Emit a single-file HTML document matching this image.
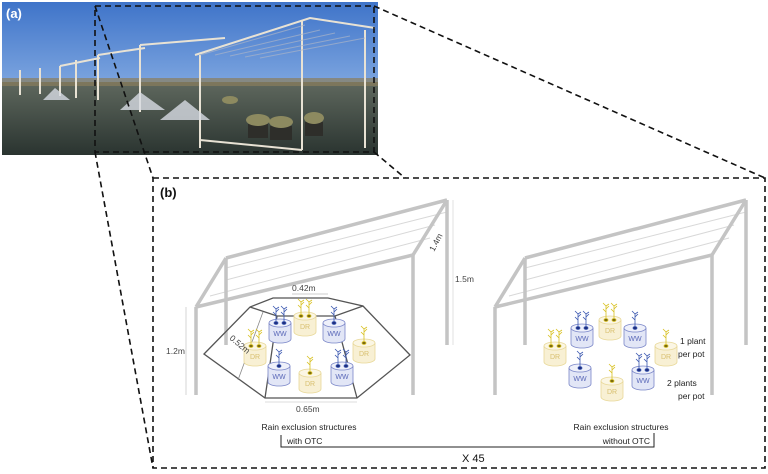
<!DOCTYPE html>
<html><head><meta charset="utf-8"><style>
html,body{margin:0;padding:0;background:#fff;}
svg{display:block;font-family:"Liberation Sans",sans-serif;}
</style></head><body>
<svg width="768" height="474" viewBox="0 0 768 474">
<defs>
<linearGradient id="sky" x1="0" y1="0" x2="0" y2="1">
<stop offset="0" stop-color="#3f74c9"/><stop offset="0.7" stop-color="#8fb4e6"/><stop offset="1" stop-color="#b8cde4"/>
</linearGradient>
<linearGradient id="gnd" x1="0" y1="0" x2="0" y2="1">
<stop offset="0" stop-color="#5f685e"/><stop offset="1" stop-color="#2a3430"/>
</linearGradient>
<g id="plB" fill="#3a57b0" stroke="#3a57b0" stroke-width="0.8">
<path d="M0,0 L0,-14 M0,-8 l-3,-3 M0,-11 l3,-3 M0,-14 l-3,-3 M0,-14 l3,-2" fill="none"/>
<ellipse cx="0" cy="0" rx="2" ry="1.5" fill="#1f2f80"/>
</g>
<g id="plY" fill="#d8c020" stroke="#d8c020" stroke-width="0.8">
<path d="M0,0 L0,-14 M0,-8 l-3,-3 M0,-11 l3,-3 M0,-14 l-3,-3 M0,-14 l3,-2" fill="none"/>
<ellipse cx="0" cy="0" rx="2" ry="1.5" fill="#7a6a10"/>
</g>
<g id="ww">
<path d="M-11,0 L-11,16 A11,4 0 0 0 11,16 L11,0" fill="#e2e6f6" stroke="#7a86c8" stroke-width="0.8"/>
<ellipse cx="0" cy="0" rx="11" ry="4" fill="#eef0fa" stroke="#7a86c8" stroke-width="0.8"/>
<text x="0" y="13" font-size="7" fill="#5a68b8" text-anchor="middle">WW</text>
</g>
<g id="dr">
<path d="M-11,0 L-11,16 A11,4 0 0 0 11,16 L11,0" fill="#f8f0d4" stroke="#e8d898" stroke-width="0.8"/>
<ellipse cx="0" cy="0" rx="11" ry="4" fill="#fbf6e4" stroke="#e8d898" stroke-width="0.8"/>
<text x="0" y="13" font-size="7" fill="#d8c070" text-anchor="middle">DR</text>
</g>
<g id="ww2"><use href="#ww"/><use href="#plB" x="-4" y="0"/><use href="#plB" x="4" y="0"/></g>
<g id="ww1"><use href="#ww"/><use href="#plB" x="0" y="0"/></g>
<g id="dr2"><use href="#dr"/><use href="#plY" x="-4" y="0"/><use href="#plY" x="4" y="0"/></g>
<g id="dr1"><use href="#dr"/><use href="#plY" x="0" y="0"/></g>
<g id="frame" fill="none">
<path d="M226,258 L447,200 M196,307 L413,255" stroke="#c4c4c4" stroke-width="3.5"/>
<path d="M226,268 L447,212 M226,280 L435,225 M210,296 L430,238" stroke="#d8d8d8" stroke-width="1"/>
<path d="M196,307 L226,258 M413,255 L447,200" stroke="#c4c4c4" stroke-width="3.5"/>
<path d="M196,307 L196,395 M226,258 L226,345 M413,255 L413,395 M447,200 L447,345" stroke="#c4c4c4" stroke-width="3.5"/>
</g>
</defs>

<!-- photo -->
<rect x="2" y="2" width="376" height="153" fill="url(#sky)"/>
<rect x="2" y="82" width="376" height="73" fill="url(#gnd)"/>
<rect x="2" y="78" width="376" height="8" fill="#8a7d5c" opacity="0.7"/>
<g stroke="#e8e2d4" stroke-width="2" fill="none">
<path d="M195,55 L310,18 L375,28 M200,55 L200,148 M302,20 L302,150 M365,30 L365,148 M200,140 L302,150 M140,45 L140,112 M98,55 L98,100 M76,60 L76,98 M60,66 L60,96 M40,68 L40,94 M20,70 L20,95"/>
<path d="M140,45 L225,38 M98,55 L145,48 M60,66 L100,58"/>
</g>
<g stroke="#aab4c8" stroke-width="1" opacity="0.7">
<path d="M200,55 L305,25 M215,55 L320,30 M230,56 L335,33 M245,57 L350,36 M260,58 L365,38"/>
</g>
<g fill="#2e2e2a"><rect x="248" y="124" width="20" height="14"/><rect x="270" y="126" width="22" height="14"/><rect x="305" y="122" width="18" height="14"/></g>
<g fill="#8d8a60"><ellipse cx="258" cy="120" rx="12" ry="6"/><ellipse cx="281" cy="122" rx="12" ry="6"/><ellipse cx="314" cy="118" rx="10" ry="6"/><ellipse cx="230" cy="100" rx="8" ry="4"/></g>
<g fill="#d8dce4" opacity="0.8"><path d="M120,110 L140,92 L165,110Z"/><path d="M43,100 L55,88 L70,100Z"/><path d="M160,120 L185,100 L210,120Z"/></g>
<text x="6" y="18" font-size="13" font-weight="bold" fill="#fff">(a)</text>

<!-- dashed zoom -->
<g stroke="#111" stroke-width="1.6" stroke-dasharray="6,4" fill="none">
<rect x="95" y="6" width="279" height="146"/>
<path d="M95,6 L153,178 M95,152 L153,468 M374,6 L765,178 M374,152 L405,178"/>
<rect x="153" y="178" width="612" height="290"/>
</g>
<text x="160" y="197" font-size="13" font-weight="bold" fill="#111">(b)</text>

<!-- left structure -->
<use href="#frame"/>
<g fill="none" stroke="#555" stroke-width="1.3">
<path d="M204,354 L250,307 L273,298 L328,298 L363,306 L410,355 L357,398 L265,398 Z"/>
<path d="M250,307 L277,316 L335,316 L363,306 M277,316 L265,398 M335,316 L357,398"/>
</g>
<path d="M263,312 L238,380" stroke="#888" stroke-width="0.8"/>
<use href="#ww2" x="280" y="323"/>
<use href="#dr2" x="305" y="316"/>
<use href="#ww1" x="334" y="323"/>
<use href="#dr2" x="255" y="346"/>
<use href="#dr1" x="364" y="343"/>
<use href="#ww1" x="279" y="366"/>
<use href="#dr1" x="310" y="373"/>
<use href="#ww2" x="342" y="366"/>
<g font-size="8.5" fill="#444">
<text x="292" y="291">0.42m</text>
<path d="M292,294 L328,294" stroke="#999" stroke-width="0.6"/>
<text x="0" y="0" transform="translate(229,339) rotate(40)">0.52m</text>
<text x="166" y="354">1.2m</text>
<path d="M186,307 L186,395" stroke="#bbb" stroke-width="0.6"/>
<text x="296" y="412">0.65m</text>
<path d="M265,402 L357,402" stroke="#bbb" stroke-width="0.6"/>
<text x="0" y="0" transform="translate(434,252) rotate(-62)">1.4m</text>
<text x="455" y="282">1.5m</text>
<path d="M453,200 L453,345" stroke="#ccc" stroke-width="0.6"/>
</g>

<!-- right structure -->
<use href="#frame" x="299"/>
<use href="#ww2" x="582" y="328"/>
<use href="#dr2" x="610" y="320"/>
<use href="#ww1" x="635" y="328"/>
<use href="#dr2" x="555" y="346"/>
<use href="#dr1" x="666" y="346"/>
<use href="#ww1" x="580" y="368"/>
<use href="#dr1" x="612" y="381"/>
<use href="#ww2" x="643" y="370"/>
<g font-size="8.5" fill="#222">
<text x="680" y="344">1 plant</text>
<text x="678" y="357">per pot</text>
<text x="667" y="386">2 plants</text>
<text x="678" y="399">per pot</text>
</g>

<!-- captions -->
<g font-size="8.5" fill="#222">
<text x="309" y="430" text-anchor="middle">Rain exclusion structures</text>
<text x="287" y="444">with OTC</text>
<text x="621" y="430" text-anchor="middle">Rain exclusion structures</text>
<text x="650" y="444" text-anchor="end">without OTC</text>
</g>
<path d="M281,435 L281,447 L654,447 L654,433" fill="none" stroke="#222" stroke-width="1"/>
<text x="462" y="462" font-size="11" fill="#111">X 45</text>
</svg>
</body></html>
